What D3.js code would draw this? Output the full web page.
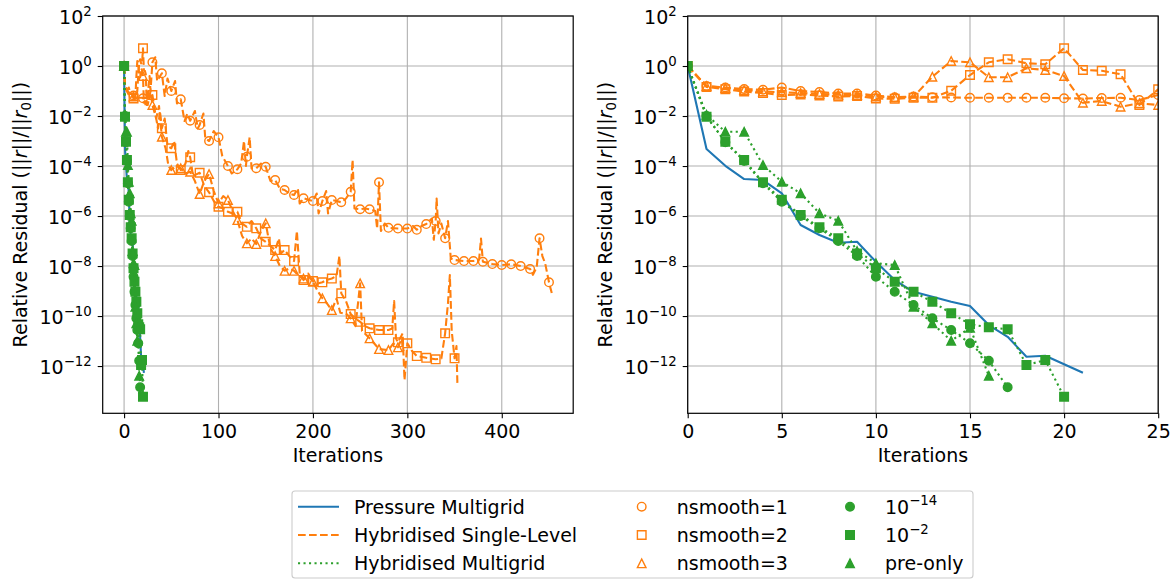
<!DOCTYPE html>
<html>
<head>
<meta charset="utf-8">
<script src="https://cdn.jsdelivr.net/npm/d3@7"></script>
<style>
body { margin: 0; background: #fff; }
text { font-family: "DejaVu Sans", sans-serif; }
</style>
</head>
<body>
<script>
//Width and height
const w = 1176;
const h = 580;

//log10 of relative residual, one value per iteration
const pressureMG = [0, -3.32, -3.99, -4.52, -4.56, -5.09, -6.36, -6.76, -7.07, -7.03, -7.83,
  -8.56, -9.03, -9.23, -9.43, -9.6, -10.36, -10.83, -11.63, -11.59, -11.93, -12.27];
const hmgTol14 = [0, -2.0, -3.05, -3.8, -4.69, -5.43, -6.0, -6.49, -7.0, -7.6, -8.43,
  -9.03, -9.56, -10.09, -10.56, -11.09, -11.79, -12.85];
const hmgTol2 = [0, -2.03, -3.03, -3.76, -4.65, -5.35, -5.96, -6.45, -6.89, -7.5, -8.09,
  -8.63, -9.03, -9.43, -9.89, -10.33, -10.45, -10.53, -11.96, -11.76, -13.23];
const hmgPreOnly = [0, -1.95, -2.63, -2.63, -3.96, -4.63, -5.09, -5.89, -6.19, -7.4, -7.89,
  -7.96, -9.63, -10.29, -10.99, -10.47, -12.39];

//hybridised single-level runs: [iteration, log10 residual]
const hslSmooth1 = [[0,0],[1,-0.80],[2,-0.86],[3,-0.92],[4,-0.95],[5,-0.86],[6,-1.0],[7,-1.04],[8,-1.1],[9,-1.1],[10,-1.18],
  [11,-1.25],[12,-1.22],[13,-1.25],[14,-1.26],[15,-1.27],[16,-1.27],[17,-1.27],[18,-1.27],[19,-1.27],[20,-1.29],
  [21,-1.3],[22,-1.28],[23,-1.27],[24,-1.36],[25,-1.16],[27,-0.4],[28,-1.0],[30,0.15],[33,0.35],[35,-0.6],
  [40,-0.29],[43,-1.2],[46,-0.5],[50,-1.0],[54,-0.6],[56,-1.5],[60,-1.33],[64,-2.2],[67,-1.9],[70,-2.19],
  [75,-1.8],[78,-2.5],[80,-2.36],[84,-1.9],[86,-2.9],[90,-3.0],[95,-2.6],[100,-2.85],[104,-3.6],[110,-4.0],
  [114,-4.3],[120,-4.13],[124,-3.9],[127,-3.0],[129,-4.0],[130,-3.63],[133,-2.85],[135,-4.1],[140,-4.09],
  [145,-3.9],[150,-4.03],[155,-4.6],[160,-4.56],[165,-4.9],[170,-4.96],[175,-5.1],[180,-5.16],[184,-4.9],
  [186,-5.5],[190,-5.29],[195,-5.35],[200,-5.4],[204,-5.1],[206,-5.9],[210,-5.4],[214,-5.0],[216,-5.9],
  [220,-5.36],[225,-5.4],[230,-5.45],[235,-5.3],[240,-5.03],[242,-3.76],[244,-5.7],[250,-5.73],[255,-5.7],
  [260,-5.73],[266,-5.8],[268,-6.5],[270,-4.65],[272,-6.6],[276,-6.3],[280,-6.47],[290,-6.5],[300,-6.5],
  [306,-6.4],[310,-6.55],[315,-6.4],[320,-6.32],[326,-6.1],[328,-6.95],[330,-6.2],[331,-5.3],[333,-6.7],
  [336,-6.3],[340,-6.89],[343,-6.2],[346,-7.7],[350,-7.76],[360,-7.8],[370,-7.8],[376,-7.75],[378,-6.9],
  [380,-7.83],[390,-7.92],[400,-7.96],[410,-7.93],[420,-8.0],[430,-8.12],[433,-8.35],[437,-8.05],[440,-6.89],
  [443,-7.6],[446,-7.9],[450,-8.65],[453,-9.09]];
const hslSmooth2 = [[0,0],[1,-0.84],[2,-0.93],[3,-1.02],[4,-1.08],[5,-1.16],[6,-1.14],[7,-1.18],[8,-1.22],[9,-1.2],[10,-1.3],
  [11,-1.31],[12,-1.27],[13,-1.27],[14,-0.99],[15,-0.36],[16,0.15],[17,0.27],[18,0.11],[19,0.07],[20,0.71],
  [21,-0.16],[22,-0.19],[23,-0.33],[24,-1.56],[25,-0.93],[27,-1.3],[30,-1.16],[33,-1.9],[36,-2.5],[38,-1.8],
  [40,-2.49],[43,-2.1],[46,-3.2],[50,-3.29],[53,-3.0],[56,-3.9],[60,-4.16],[65,-3.9],[68,-3.4],[70,-3.65],
  [73,-4.4],[80,-4.27],[85,-4.8],[90,-5.05],[95,-5.4],[100,-5.63],[105,-5.7],[110,-5.83],[115,-5.9],[120,-5.83],
  [125,-6.3],[130,-6.43],[135,-6.2],[140,-6.49],[145,-6.9],[150,-7.03],[155,-7.2],[160,-7.36],[164,-6.9],
  [166,-7.5],[170,-7.36],[175,-7.6],[180,-7.8],[183,-6.6],[186,-8.3],[190,-8.56],[195,-8.4],[200,-8.6],
  [205,-8.7],[210,-8.65],[215,-8.55],[220,-8.5],[225,-8.4],[228,-7.6],[230,-9.09],[235,-9.4],[240,-9.92],
  [245,-10.1],[250,-10.23],[255,-10.4],[260,-10.49],[270,-10.56],[280,-10.56],[284,-10.5],[286,-9.4],
  [288,-10.9],[290,-11.05],[295,-10.7],[297,-12.56],[300,-11.09],[305,-11.4],[310,-11.6],[320,-11.67],
  [330,-11.73],[336,-11.7],[340,-10.69],[343,-9.5],[345,-8.36],[347,-10.6],[350,-11.69],[352,-11.2],[353,-12.69]];
const hslSmooth3 = [[0,0],[1,-0.8],[2,-0.88],[3,-0.96],[4,-1.02],[5,-1.05],[6,-1.08],[7,-1.12],[8,-1.15],[9,-1.16],[10,-1.22],
  [11,-1.25],[12,-1.23],[13,-0.43],[14,0.2],[15,0.15],[16,-0.45],[17,-0.45],[18,-0.09],[19,-0.16],[20,-0.4],
  [21,-1.47],[22,-1.4],[23,-1.63],[24,-1.49],[25,-1.56],[28,-1.0],[30,-1.56],[34,-2.1],[37,-1.6],[40,-2.83],
  [44,-3.3],[47,-4.0],[50,-4.16],[55,-4.0],[60,-4.09],[65,-4.3],[70,-4.23],[75,-4.6],[80,-5.12],[85,-4.6],
  [90,-4.32],[95,-5.0],[100,-5.5],[105,-5.2],[110,-5.36],[115,-5.8],[120,-6.16],[125,-6.8],[130,-7.09],
  [135,-6.9],[140,-7.12],[145,-6.6],[150,-6.29],[155,-7.3],[160,-7.6],[165,-8.0],[170,-8.19],[175,-8.1],
  [180,-8.19],[185,-8.4],[190,-8.5],[195,-8.3],[200,-8.63],[205,-9.0],[210,-9.29],[215,-9.5],[220,-9.76],
  [225,-9.3],[229,-9.87],[235,-9.9],[240,-10.09],[245,-10.4],[248,-9.4],[250,-8.69],[252,-10.6],[255,-10.7],
  [260,-10.89],[265,-11.1],[270,-11.32],[280,-11.36],[285,-11.1],[290,-11.25],[294,-10.9],[296,-11.4]];

//axis ticks and legend labels
const xTicksLeft = [0, 100, 200, 300, 400];
const xTicksRight = [0, 5, 10, 15, 20, 25];
const yTickExps = [2, 0, -2, -4, -6, -8, -10, -12];
const methodLabels = ["Pressure Multigrid", "Hybridised Single-Level", "Hybridised Multigrid"];
const smoothLabels = ["nsmooth=1", "nsmooth=2", "nsmooth=3"];
const tolLabels = [["10", "\u221214"], ["10", "\u22122"], ["pre-only", ""]];

const blue = "#1f77b4", orange = "#ff7f0e", green = "#2ca02c";
const dashed = "7.7,3.3", dotted = "2.1,3.4";

function byIter(arr) { return arr.map(function(v, i) { return [i, v]; }); }

var series = [
  {data: byIter(pressureMG), color: blue, dash: null, marker: null},
  {data: hslSmooth1, color: orange, dash: dashed, marker: "circle", filled: false, sparse: true},
  {data: hslSmooth2, color: orange, dash: dashed, marker: "square", filled: false, sparse: true},
  {data: hslSmooth3, color: orange, dash: dashed, marker: "triangle", filled: false, sparse: true},
  {data: byIter(hmgTol14), color: green, dash: dotted, marker: "circle", filled: true},
  {data: byIter(hmgTol2), color: green, dash: dotted, marker: "square", filled: true},
  {data: byIter(hmgPreOnly), color: green, dash: dotted, marker: "triangle", filled: true}
];

var msize = 8.6;
function markerPath(type, s) {
  var r = s / 2;
  if (type == "circle") return d3.symbol().type(d3.symbolCircle).size(Math.PI * r * r)();
  if (type == "square") return "M" + (-r) + "," + (-r) + "H" + r + "V" + r + "H" + (-r) + "Z";
  return "M0," + (-r) + "L" + r + "," + r + "L" + (-r) + "," + r + "Z";
}

//Create SVG element
var svg = d3.select("body")
			.append("svg")
			.attr("width", w)
			.attr("height", h);

var plotTop = 16, plotBottom = 413.3, pw = 470.5;
var y = d3.scaleLog().domain([Math.pow(10, -13.89), 100]).range([plotBottom, plotTop]);

var panels = [
  {id: "pa", left: 102.7, xDomain: [-22.65, 475.65], ticks: xTicksLeft, orangeEvery: 10},
  {id: "pb", left: 687.7, xDomain: [0, 25], ticks: xTicksRight, orangeEvery: 1}
];

panels.forEach(function(p) {
  var x = d3.scaleLinear().domain(p.xDomain).range([p.left, p.left + pw]);
  var g = svg.append("g");

  g.append("clipPath").attr("id", "clip-" + p.id)
    .append("rect").attr("x", p.left).attr("y", plotTop).attr("width", pw).attr("height", plotBottom - plotTop);

  //grid
  g.selectAll(".vgrid").data(p.ticks).enter().append("line")
    .attr("x1", function(d) { return x(d); }).attr("x2", function(d) { return x(d); })
    .attr("y1", plotTop).attr("y2", plotBottom)
    .attr("stroke", "#b0b0b0").attr("stroke-width", 1.1);
  g.selectAll(".hgrid").data(yTickExps).enter().append("line")
    .attr("x1", p.left).attr("x2", p.left + pw)
    .attr("y1", function(d) { return y(Math.pow(10, d)); }).attr("y2", function(d) { return y(Math.pow(10, d)); })
    .attr("stroke", "#b0b0b0").attr("stroke-width", 1.1);

  var plot = g.append("g").attr("clip-path", "url(#clip-" + p.id + ")");
  var line = d3.line()
    .x(function(d) { return x(d[0]); })
    .y(function(d) { return y(Math.pow(10, d[1])); });

  series.forEach(function(s) {
    plot.append("path").datum(s.data)
      .attr("d", line)
      .attr("fill", "none")
      .attr("stroke", s.color)
      .attr("stroke-width", 2.1)
      .attr("stroke-dasharray", s.dash)
      .attr("stroke-linejoin", "round");
    if (!s.marker) return;
    var pts = s.data.filter(function(d) {
      return s.sparse ? d[0] % p.orangeEvery == 0 : true;
    });
    plot.selectAll(null).data(pts).enter().append("path")
      .attr("d", markerPath(s.marker, msize))
      .attr("transform", function(d) { return "translate(" + x(d[0]) + "," + y(Math.pow(10, d[1])) + ")"; })
      .attr("fill", s.filled ? s.color : "none")
      .attr("stroke", s.color)
      .attr("stroke-width", 1.4);
  });

  //x axis
  var xa = g.append("g").attr("transform", "translate(0," + plotBottom + ")")
    .call(d3.axisBottom(x).tickValues(p.ticks).tickSize(5).tickSizeOuter(0).tickPadding(6.2));
  xa.select(".domain").remove();
  xa.selectAll("line").attr("stroke", "#000").attr("stroke-width", 1.1);
  xa.selectAll("text").attr("font-size", 19).attr("fill", "#000")
    .attr("font-family", "DejaVu Sans");

  //y axis
  var ya = g.append("g").attr("transform", "translate(" + p.left + ",0)")
    .call(d3.axisLeft(y).tickValues(yTickExps.map(function(e) { return Math.pow(10, e); }))
      .tickSize(5).tickSizeOuter(0).tickPadding(6).tickFormat(""));
  ya.select(".domain").remove();
  ya.selectAll("line").attr("stroke", "#000").attr("stroke-width", 1.1);
  ya.selectAll(".tick text").each(function(d) {
    var t = d3.select(this).attr("dy", "7.6px").attr("font-size", 19)
      .attr("fill", "#000").attr("font-family", "DejaVu Sans");
    var e = Math.round(Math.log10(d));
    t.append("tspan").text("10");
    t.append("tspan").attr("dy", -8.5).attr("font-size", 13.3)
      .text(e < 0 ? "\u2212" + (-e) : String(e));
  });

  //frame
  g.append("rect").attr("x", p.left).attr("y", plotTop).attr("width", pw).attr("height", plotBottom - plotTop)
    .attr("fill", "none").attr("stroke", "#000").attr("stroke-width", 1.2);

  //axis labels
  g.append("text").attr("x", p.left + pw / 2).attr("y", 462)
    .attr("text-anchor", "middle").attr("font-size", 19).text("Iterations");
  var yl = g.append("text")
    .attr("transform", "translate(" + (p.left - 76) + "," + ((plotTop + plotBottom) / 2) + ") rotate(-90)")
    .attr("text-anchor", "middle").attr("font-size", 19);
  yl.append("tspan").text("Relative Residual (||");
  yl.append("tspan").attr("font-style", "italic").text("r");
  yl.append("tspan").text("||/||");
  yl.append("tspan").attr("font-style", "italic").text("r");
  yl.append("tspan").attr("font-size", 13.3).attr("dy", 4).text("0");
  yl.append("tspan").attr("dy", -4).text("||)");
});

//legend
var lg = svg.append("g");
lg.append("rect").attr("x", 292).attr("y", 491).attr("width", 681).attr("height", 87)
  .attr("rx", 3).attr("fill", "#fff").attr("fill-opacity", 0.8)
  .attr("stroke", "#cccccc").attr("stroke-width", 1.1);
var rowY = [506.7, 535, 563.3];
var lineStyles = [[blue, null], [orange, dashed], [green, dotted]];
var markerTypes = ["circle", "square", "triangle"];

methodLabels.forEach(function(label, i) {
  lg.append("line").attr("x1", 298).attr("x2", 339).attr("y1", rowY[i]).attr("y2", rowY[i])
    .attr("stroke", lineStyles[i][0]).attr("stroke-width", 2.1).attr("stroke-dasharray", lineStyles[i][1]);
  lg.append("text").attr("x", 354).attr("y", rowY[i] + 7).attr("font-size", 19).text(label);
});
smoothLabels.forEach(function(label, i) {
  lg.append("path").attr("d", markerPath(markerTypes[i], msize))
    .attr("transform", "translate(641.7," + rowY[i] + ")")
    .attr("fill", "none").attr("stroke", orange).attr("stroke-width", 1.4);
  lg.append("text").attr("x", 676.7).attr("y", rowY[i] + 7).attr("font-size", 19).text(label);
});
tolLabels.forEach(function(label, i) {
  lg.append("path").attr("d", markerPath(markerTypes[i], msize))
    .attr("transform", "translate(850," + rowY[i] + ")")
    .attr("fill", green).attr("stroke", green).attr("stroke-width", 1.4);
  var t = lg.append("text").attr("x", 885).attr("y", rowY[i] + 7).attr("font-size", 19);
  t.append("tspan").text(label[0]);
  if (label[1]) t.append("tspan").attr("dy", -8.5).attr("font-size", 13.3).text(label[1]);
});
</script>
</body>
</html>
